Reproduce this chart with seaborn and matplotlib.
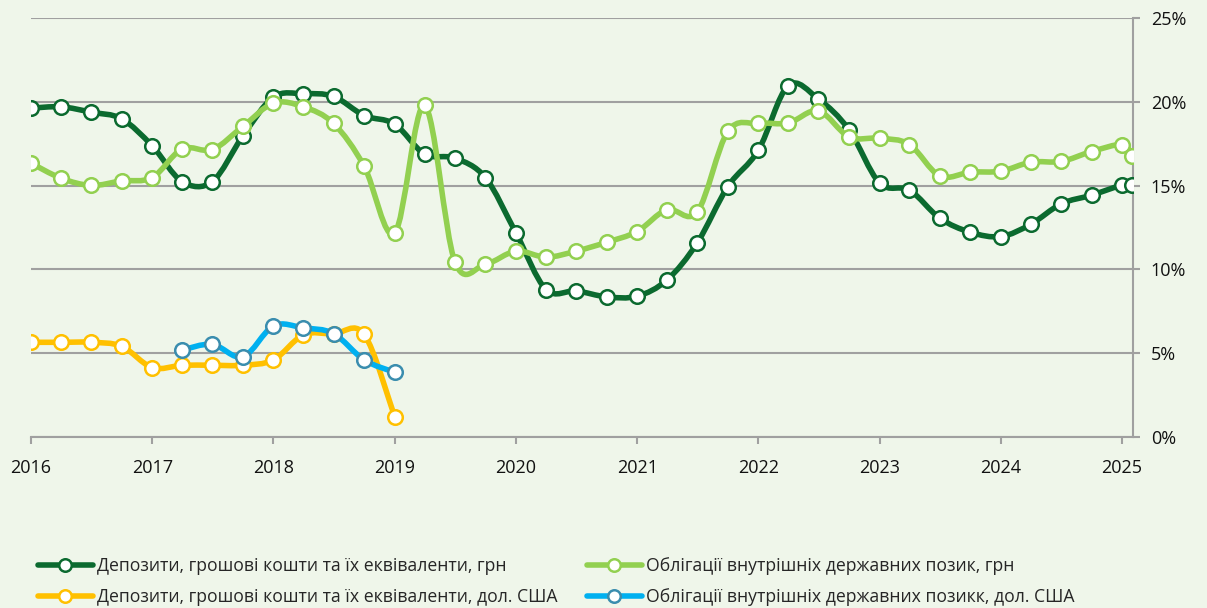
import numpy as np
import pandas as pd
import matplotlib
matplotlib.use('Agg')
import matplotlib.pyplot as plt
from matplotlib.path import Path
from matplotlib.patches import PathPatch
from matplotlib.lines import Line2D
from matplotlib.ticker import FuncFormatter
import seaborn as sns

# quarterly dates + last point (Feb 2025)
dates_uah = list(pd.date_range('2016-01-01', '2025-01-01', freq='QS')) + [pd.Timestamp('2025-02-01')]
dates_usd_dep = list(pd.date_range('2016-01-01', '2019-01-01', freq='QS'))
dates_usd_ovdp = list(pd.date_range('2017-04-01', '2019-01-01', freq='QS'))

dep_uah = [19.62, 19.70, 19.38, 18.98, 17.37, 15.24, 15.24, 17.97, 20.28, 20.48, 20.32, 19.18,
           18.67, 16.88, 16.64, 15.48, 12.18, 8.80, 8.72, 8.36, 8.40, 9.37, 11.58, 14.94,
           17.11, 20.97, 20.16, 18.33, 15.15, 14.73, 13.06, 12.22, 11.96, 12.70, 13.91, 14.43,
           15.03, 15.03]
ovdp_uah = [16.34, 15.44, 15.01, 15.28, 15.48, 17.19, 17.15, 18.53, 19.92, 19.70, 18.71, 16.16,
            12.16, 19.78, 10.47, 10.31, 11.09, 10.73, 11.09, 11.62, 12.26, 13.57, 13.43, 18.23,
            18.71, 18.73, 19.46, 17.91, 17.83, 17.45, 15.58, 15.80, 15.86, 16.40, 16.44, 17.03,
            17.45, 16.78]
dep_usd = [5.65, 5.65, 5.65, 5.41, 4.14, 4.28, 4.28, 4.28, 4.60, 6.09, 6.15, 6.13, 1.21]
ovdp_usd = [5.19, 5.53, 4.78, 6.63, 6.51, 6.17, 4.60, 3.86]

labels = ['Депозити, грошові кошти та їх еквіваленти, грн',
          'Депозити, грошові кошти та їх еквіваленти, дол. США',
          'Облігації внутрішніх державних позик, грн',
          'Облігації внутрішніх державних позикк, дол. США']
year_ticks = list(range(2016, 2026))


def dec_year(ds):
    return np.array([d.year + (d.dayofyear - 1) / (366 if d.is_leap_year else 365) for d in ds])


def smooth_path(x, y):
    # excel-like smoothed line: catmull-rom as cubic bezier segments
    pts = np.column_stack([x, y])
    n = len(pts)
    verts = [pts[0]]
    codes = [Path.MOVETO]
    for i in range(n - 1):
        p0 = pts[max(i - 1, 0)]
        p1 = pts[i]
        p2 = pts[i + 1]
        p3 = pts[min(i + 2, n - 1)]
        verts += [p1 + (p2 - p0) / 6, p2 - (p3 - p1) / 6, p2]
        codes += [Path.CURVE4] * 3
    return Path(verts, codes)


bg = '#EFF6EA'
grid_c = '#A0A0A0'
sns.set_theme(style='white')
plt.rcParams['font.family'] = ['Open Sans', 'DejaVu Sans']

fig = plt.figure(figsize=(12.07, 6.08), dpi=100, facecolor=bg)
ax = fig.add_axes([31 / 1207, 1 - 437 / 608, (1132.7 - 31) / 1207, (437 - 18) / 608])
ax.set_facecolor(bg)

series = [
    (dates_uah, dep_uah, '#0B6A2F', '#0B6A2F'),
    (dates_uah, ovdp_uah, '#92D050', '#92D050'),
    (dates_usd_dep, dep_usd, '#FFC000', '#FFC000'),
    (dates_usd_ovdp, ovdp_usd, '#00B0F0', '#3A8DAE'),
]

handles = []
for k, (ds, vals, col, edge) in enumerate(series):
    x = dec_year(ds)
    y = np.array(vals)
    ax.add_patch(PathPatch(smooth_path(x, y), fill=False, edgecolor=col, lw=4,
                           capstyle='round', joinstyle='round', zorder=3 + 2 * k))
    sns.scatterplot(x=x, y=y, ax=ax, s=110, color='white', edgecolor=edge,
                    linewidth=1.8, zorder=4 + 2 * k, legend=False)
    handles.append(Line2D([], [], color=col, lw=4, marker='o', markersize=9,
                          markerfacecolor='white', markeredgecolor=edge, markeredgewidth=1.8,
                          solid_capstyle='round'))

ax.set_xlim(2016, dec_year([pd.Timestamp('2025-02-01')])[0] + 0.003)
ax.set_ylim(0, 25)
ax.set_xticks(year_ticks)
ax.set_xticklabels([str(t) for t in year_ticks])
ax.set_yticks([0, 5, 10, 15, 20, 25])
ax.yaxis.set_major_formatter(FuncFormatter(lambda v, p: f'{v:.0f}%'))
ax.yaxis.tick_right()
ax.grid(axis='y', color=grid_c, lw=1.5)
ax.grid(axis='x', visible=False)
ax.set_axisbelow(True)
for s in ['left', 'top']:
    ax.spines[s].set_visible(False)
for s in ['right', 'bottom']:
    ax.spines[s].set_color(grid_c)
    ax.spines[s].set_linewidth(1.5)
ax.tick_params(axis='x', direction='out', length=5, width=1.5, color=grid_c,
               labelsize=13, pad=11, labelcolor='#111111', bottom=True)
ax.tick_params(axis='y', direction='out', length=5, width=1.5, color=grid_c,
               labelsize=13, pad=8, labelcolor='#111111', right=True, left=False)

leg_kw = dict(frameon=False, fontsize=12.7, handlelength=3.1, handletextpad=0.25,
              labelspacing=0.75, borderpad=0, borderaxespad=0, loc='upper left')
fig.legend([handles[0], handles[2]], [labels[0], labels[1]],
           bbox_to_anchor=(38 / 1207, 1 - 557 / 608), **leg_kw)
fig.legend([handles[1], handles[3]], [labels[2], labels[3]],
           bbox_to_anchor=(587 / 1207, 1 - 557 / 608), **leg_kw)

fig.savefig('out.png', dpi=100, facecolor=bg)
